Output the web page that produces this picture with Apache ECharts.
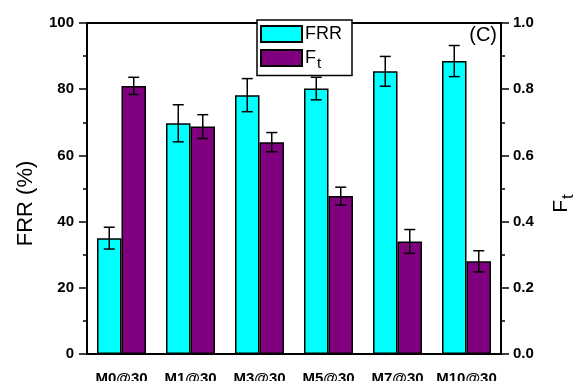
<!DOCTYPE html>
<html><head><meta charset="utf-8">
<script src="https://cdn.jsdelivr.net/npm/echarts@6/dist/echarts.min.js"></script>
<style>html,body{margin:0;padding:0;background:#fff}#c{width:578px;height:381px}</style>
</head><body><div id="c"></div>
<script>
var categories = ['M0@30','M1@30','M3@30','M5@30','M7@30','M10@30'];
var frrValues = [35.0, 69.7, 78.2, 80.2, 85.4, 88.5];
var frrErrors = [3.3, 5.6, 5.0, 3.4, 4.5, 4.7];
var ftValues = [0.81, 0.687, 0.64, 0.477, 0.34, 0.28];
var ftErrors = [0.026, 0.036, 0.029, 0.027, 0.036, 0.032];
var leftTicks = [0, 20, 40, 60, 80, 100];
var rightTicks = [0.0, 0.2, 0.4, 0.6, 0.8, 1.0];

var BW = 24.5;
function errSeries(vals, errs, yIdx, side) {
  var data = vals.map(function (v, i) { return [i, v - errs[i], v + errs[i]]; });
  return {
    type: 'custom', xAxisIndex: 0, yAxisIndex: yIdx, z: 10, silent: true,
    data: data,
    renderItem: function (params, api) {
      var lo = api.coord([api.value(0), api.value(1)]);
      var hi = api.coord([api.value(0), api.value(2)]);
      var x = lo[0] + side * BW / 2;
      var cap = 5.5;
      var st = { stroke: '#000', lineWidth: 1.5 };
      return { type: 'group', children: [
        { type: 'line', shape: { x1: x, y1: lo[1], x2: x, y2: hi[1] }, style: st },
        { type: 'line', shape: { x1: x - cap, y1: lo[1], x2: x + cap, y2: lo[1] }, style: st },
        { type: 'line', shape: { x1: x - cap, y1: hi[1], x2: x + cap, y2: hi[1] }, style: st }
      ]};
    }
  };
}

var chart = echarts.init(document.getElementById('c'));
var lblStyle = { color: '#000', fontWeight: 'bold', fontSize: 15, fontFamily: 'Liberation Sans, Arial, sans-serif' };
chart.setOption({
  animation: false,
  textStyle: { fontFamily: 'Liberation Sans, Arial, sans-serif' },
  title: { text: '(C)', right: 76, top: 20, textStyle: { fontSize: 20, fontWeight: 'normal', color: '#000' } },
  grid: { left: 87, right: 77, top: 23, bottom: 27, show: true, borderColor: '#000', borderWidth: 2, backgroundColor: 'transparent', outerBoundsMode: 'none', containLabel: false },
  legend: {
    left: 257, top: 20, orient: 'vertical',
    itemWidth: 41, itemHeight: 16, itemGap: 6, icon: 'rect',
    borderColor: '#000', borderWidth: 1.5, backgroundColor: '#fff',
    padding: [5, 10, 4, 3],
    data: ['FRR', 'Ft'],
    formatter: function (n) { return n === 'Ft' ? 'F{sub|t}' : n; },
    textStyle: { fontSize: 18, color: '#000', padding: [0, 0, 0, -2],
      rich: { sub: { fontSize: 15, verticalAlign: 'bottom', padding: [12, 0, 0, 1], color: '#000' } } }
  },
  xAxis: [{
    type: 'category', data: categories, position: 'bottom',
    axisLine: { lineStyle: { color: '#000', width: 2 } },
    axisTick: { alignWithLabel: true, length: 7, lineStyle: { color: '#000', width: 1.5 } },
    axisLabel: Object.assign({ margin: 17, interval: 0 }, lblStyle)
  }, {
    type: 'category', data: categories, position: 'bottom',
    axisLine: { show: false },
    axisTick: { length: 4, lineStyle: { color: '#000', width: 1.5 } },
    axisLabel: { show: false }
  }],
  yAxis: [{
    type: 'value', min: leftTicks[0], max: leftTicks[leftTicks.length - 1], interval: 20,
    name: 'FRR (%)', nameLocation: 'middle', nameGap: 50, nameRotate: 90,
    nameTextStyle: { fontSize: 22, color: '#000', padding: [0, 30, 0, 0] },
    axisLine: { show: true, lineStyle: { color: '#000', width: 2 } },
    axisTick: { show: true, length: 8, lineStyle: { color: '#000', width: 1.5 } },
    minorTick: { show: true, splitNumber: 2, length: 4, lineStyle: { color: '#000', width: 1.5 } },
    splitLine: { show: false },
    axisLabel: Object.assign({ margin: 13 }, lblStyle)
  }, {
    type: 'value', min: rightTicks[0], max: rightTicks[rightTicks.length - 1], interval: 0.2, position: 'right',
    name: '{b|F}{sub|t}', nameLocation: 'middle', nameGap: 45, nameRotate: 90,
    nameTextStyle: { fontSize: 21, color: '#000', padding: [0, 30, 0, 0], rich: {
      b: { fontSize: 21, color: '#000' },
      sub: { fontSize: 17, verticalAlign: 'bottom', padding: [14, 0, 0, 1], color: '#000' } } },
    axisLine: { show: true, lineStyle: { color: '#000', width: 2 } },
    axisTick: { show: true, length: 8, lineStyle: { color: '#000', width: 1.5 } },
    minorTick: { show: true, splitNumber: 2, length: 4, lineStyle: { color: '#000', width: 1.5 } },
    splitLine: { show: false },
    axisLabel: Object.assign({ margin: 12, formatter: function (v) { return v.toFixed(1); } }, lblStyle)
  }],
  series: [{
    name: 'FRR', type: 'bar', xAxisIndex: 0, yAxisIndex: 0, data: frrValues,
    barWidth: BW, barGap: '0%',
    itemStyle: { color: '#00FFFF', borderColor: '#000', borderWidth: 1.5 }
  }, {
    name: 'Ft', type: 'bar', xAxisIndex: 0, yAxisIndex: 1, data: ftValues,
    barWidth: BW, barGap: '0%',
    itemStyle: { color: '#800080', borderColor: '#000', borderWidth: 1.5 }
  },
  errSeries(frrValues, frrErrors, 0, -1),
  errSeries(ftValues, ftErrors, 1, 1)]
});
</script></body></html>
